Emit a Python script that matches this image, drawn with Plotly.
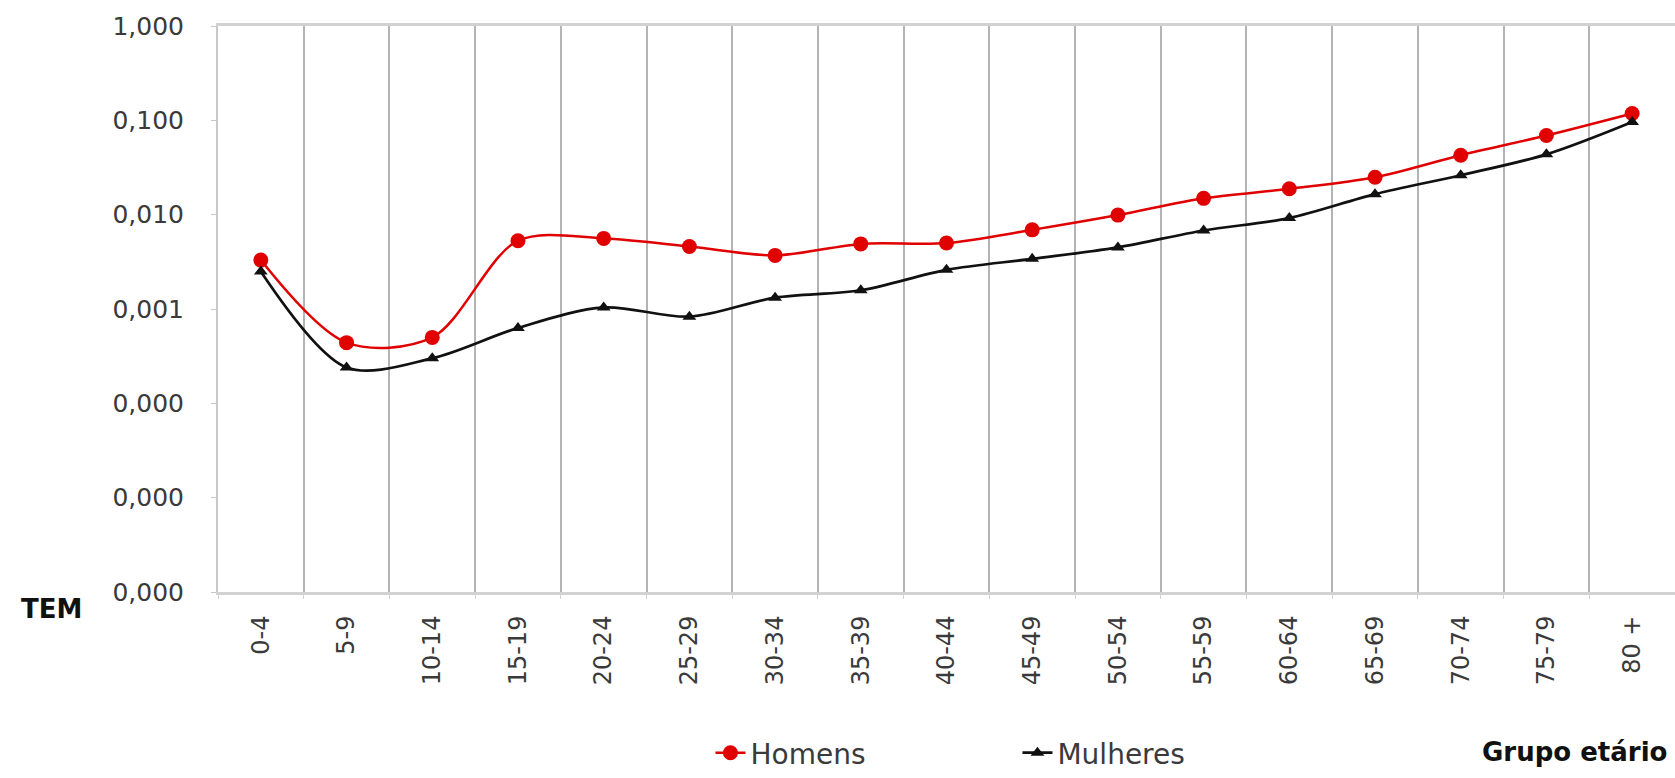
import plotly.graph_objects as go

categories = ["0-4", "5-9", "10-14", "15-19", "20-24", "25-29", "30-34", "35-39",
              "40-44", "45-49", "50-54", "55-59", "60-64", "65-69", "70-74", "75-79", "80 +"]
homens = [0.0033, 0.00044, 0.0005, 0.0053, 0.0056, 0.0046, 0.0037, 0.0049, 0.0050,
          0.0069, 0.0099, 0.0149, 0.0188, 0.0249, 0.0427, 0.069, 0.118]
mulheres = [0.0025, 0.00024, 0.0003, 0.00063, 0.00104, 0.00083, 0.00132, 0.00158, 0.0026,
            0.0034, 0.0045, 0.0068, 0.0092, 0.0165, 0.0262, 0.0436, 0.096]
y_tickvals = [1, 0.1, 0.01, 0.001, 0.0001, 0.00001, 0.000001]
y_ticktext = ["1,000", "0,100", "0,010", "0,001", "0,000", "0,000", "0,000"]

FONT = "DejaVu Sans"

fig = go.Figure()
fig.add_trace(go.Scatter(
    x=categories, y=homens, name="Homens", mode="lines+markers",
    line=dict(color="#e00000", width=2.5, shape="spline", smoothing=0.9),
    marker=dict(symbol="circle", size=15, color="#e00000"),
))
fig.add_trace(go.Scatter(
    x=categories, y=mulheres, name="Mulheres", mode="lines+markers",
    line=dict(color="#111111", width=2.7, shape="spline", smoothing=0.9),
    marker=dict(symbol="triangle-up", size=12, color="#111111"),
))

fig.update_layout(
    width=1675, height=778,
    margin=dict(l=218, r=0, t=26, b=174),
    paper_bgcolor="white", plot_bgcolor="white",
    font=dict(family=FONT, size=24, color="#3a3a3a"),
    showlegend=True,
    legend=dict(orientation="h", x=0.338, xanchor="left", y=-0.285, yanchor="middle",
                font=dict(family=FONT, size=28, color="#3a3a3a"),
                entrywidth=262, bgcolor="rgba(0,0,0,0)"),
    xaxis=dict(
        type="category", tickson="boundaries",
        showgrid=True, gridcolor="#b4b4b4", gridwidth=2,
        showline=True, linecolor="#d2d2d2", linewidth=3, mirror=True,
        ticks="outside", ticklen=4, tickcolor="#d2d2d2",
        tickangle=-90, ticklabelstandoff=11,
        tickfont=dict(family=FONT, size=24, color="#3a3a3a"),
        range=[-0.5, 16.5],
    ),
    yaxis=dict(
        type="log", range=[-6, 0],
        tickvals=y_tickvals, ticktext=y_ticktext,
        showgrid=False,
        showline=True, linecolor="#c8c8c8", linewidth=2,
        ticks="outside", ticklen=5, tickcolor="#c8c8c8",
        ticklabelstandoff=22,
        tickfont=dict(family=FONT, size=25, color="#3a3a3a"),
        zeroline=False,
    ),
)

fig.add_annotation(text="<b>TEM</b>", xref="paper", yref="paper", x=-0.114, y=-0.03,
                   showarrow=False, font=dict(family=FONT, size=26, color="#111111"),
                   xanchor="center", yanchor="middle")
fig.add_annotation(text="<b>Grupo etário</b>", xref="paper", yref="paper", x=0.996, y=-0.282,
                   showarrow=False, font=dict(family=FONT, size=26, color="#111111"),
                   xanchor="right", yanchor="middle")

fig.write_html("out.html")
